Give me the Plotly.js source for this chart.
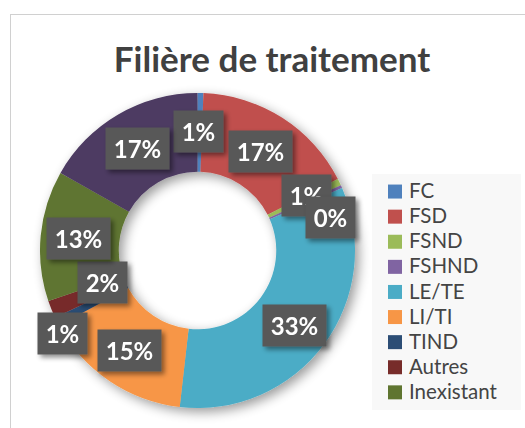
<!DOCTYPE html>
<html>
<head>
<meta charset="utf-8">
<script src="https://cdn.plot.ly/plotly-3.0.1.min.js"></script>
<style>
html,body{margin:0;padding:0;background:#ffffff;overflow:hidden;width:525px;height:428px;}
#frame{position:absolute;left:10px;top:14px;width:700px;height:600px;border:1.5px solid #d0d0d0;box-sizing:border-box;}
#chart{position:absolute;left:0;top:0;width:525px;height:428px;}
.legend .scrollbar{display:none !important;}
.legend .legendtext{font-size:20.5px !important;}
</style>
</head>
<body>
<svg width="0" height="0" style="position:absolute">
  <defs>
    <filter id="ringShadow" x="-20%" y="-20%" width="140%" height="140%">
      <feGaussianBlur in="SourceAlpha" stdDeviation="6"/>
      <feOffset dx="4" dy="4"/>
      <feComponentTransfer><feFuncA type="linear" slope="0.4"/></feComponentTransfer>
      <feMerge><feMergeNode/><feMergeNode in="SourceGraphic"/></feMerge>
    </filter>
    <filter id="boxShadow" x="-30%" y="-30%" width="170%" height="170%">
      <feGaussianBlur in="SourceAlpha" stdDeviation="2.5"/>
      <feOffset dx="3" dy="3"/>
      <feComponentTransfer><feFuncA type="linear" slope="0.45"/></feComponentTransfer>
      <feMerge><feMergeNode/><feMergeNode in="SourceGraphic"/></feMerge>
    </filter>
  </defs>
</svg>
<div id="frame"></div>
<div id="chart"></div>
<script>
// ---- data ----
const categories = ['FC', 'FSD', 'FSND', 'FSHND', 'LE/TE', 'LI/TI', 'TIND', 'Autres', 'Inexistant', 'NR'];
const shares = [0.6, 16.9, 0.7, 0.3, 33.3, 15.3, 0.9, 1.8, 13.4, 16.8];
const sliceColors = ['#4f81bd', '#c0504d', '#9bbb59', '#8064a2', '#4bacc6', '#f79646', '#2c4d75', '#772c2a', '#5f7530', '#4d3b62'];
const chartTitle = 'Filière de traitement';
const legendShown = 9; // the reference legend lists only the first nine entries

// ---- label nudges (px, layout only) ----
const nudgeX = [-1, -1, 3, 25, 2, -2, -30, 15, -1, -1];
const nudgeY = [-1, 1, -4, 15, 5, 2, 30, -12, -1, 0];

// ---- geometry ----
const W = 525, H = 428;
const M = {l: 40, r: 170, t: 93, b: 20};
const HOLE = 0.5;
const pw = W - M.l - M.r, ph = H - M.t - M.b;
const cx = M.l + pw / 2, cy = M.t + ph / 2;
const R = Math.min(pw, ph) / 2;
const rMid = (R + R * HOLE) / 2;
const LEGEND_LEFT = 372, LEGEND_TOP = 174, LEGEND_W = 149;

const total = shares.reduce((a, b) => a + b, 0);
let cum = 0;
const annotations = shares.map((v, i) => {
  const theta = 2 * Math.PI * (cum + v / 2) / total;
  cum += v;
  const px = cx + rMid * Math.sin(theta) + nudgeX[i];
  const py = cy - rMid * Math.cos(theta) + nudgeY[i];
  const txt = Math.round(v / total * 100) + '%';
  return {
    x: (px - M.l) / pw, y: 1 - (py - M.t) / ph,
    xref: 'paper', yref: 'paper', xanchor: 'center', yanchor: 'middle',
    text: txt, showarrow: false,
    font: {family: 'Lato, "Open Sans", sans-serif', size: 24, color: '#ffffff', weight: 700},
    bgcolor: '#595959', borderpad: 5,
    width: 11 + 14 * txt.length, height: 31
  };
});

const trace = {
  type: 'pie',
  labels: categories,
  values: shares,
  marker: {colors: sliceColors, line: {width: 0}},
  sort: false,
  direction: 'clockwise',
  rotation: 0,
  hole: HOLE,
  textinfo: 'none',
  hoverinfo: 'label+percent',
  showlegend: true
};

const layout = {
  width: W, height: H,
  margin: M,
  paper_bgcolor: 'rgba(0,0,0,0)',
  plot_bgcolor: 'rgba(0,0,0,0)',
  title: {
    text: chartTitle,
    font: {family: 'Lato, "Open Sans", sans-serif', size: 35, color: '#404040', weight: 700},
    xref: 'container', yref: 'container',
    x: 272 / W, xanchor: 'center',
    y: 1 - 60 / H, yanchor: 'middle'
  },
  legend: {
    xref: 'container', yref: 'container',
    x: LEGEND_LEFT / W, xanchor: 'left',
    y: 1 - LEGEND_TOP / H, yanchor: 'top',
    bgcolor: '#f8f8f8',
    font: {family: 'Lato, "Open Sans", sans-serif', size: 17, color: '#444444'},
    maxheight: 1000,
    itemclick: false, itemdoubleclick: false
  },
  annotations: annotations,
  showlegend: true
};

function styleLegend() {
  const items = Array.from(document.querySelectorAll('.legend .traces'));
  const ty = el => {
    const m = (el.getAttribute('transform') || '').match(/translate\(\s*([-\d.e]+)[ ,]+([-\d.e]+)/);
    return m ? parseFloat(m[2]) : 0;
  };
  const step = items.length > 1 ? ty(items[1]) - ty(items[0]) : 0;
  const extra = Math.max(0, items.length - legendShown);
  items.slice(legendShown).forEach(el => el.remove());
  const bg = document.querySelector('.legend .bg');
  if (bg) {
    bg.setAttribute('height', parseFloat(bg.getAttribute('height')) - step * extra);
    bg.setAttribute('width', LEGEND_W);
  }
  // widen the legend clip so the larger text is not cut
  const sb = document.querySelector('.legend .scrollbox');
  const cp = sb && sb.getAttribute('clip-path');
  const m = cp && cp.match(/#([^)'"]+)/);
  const clip = m && document.getElementById(m[1]);
  if (clip) clip.querySelectorAll('rect').forEach(r => r.setAttribute('width', LEGEND_W));
  document.querySelectorAll('clipPath[id^="legend"] rect').forEach(r => r.setAttribute('width', LEGEND_W));
  // Excel-like legend keys: slightly larger squares, closer to the text
  document.querySelectorAll('.legend .legendpoints path').forEach(p => p.setAttribute('d', 'M10,7H-4V-7H10Z'));
  document.querySelectorAll('.legend .legendtext').forEach(t => {
    const x = parseFloat(t.getAttribute('x'));
    if (!isNaN(x)) t.setAttribute('x', x - 3);
  });
}

Plotly.newPlot('chart', [trace], layout, {displayModeBar: false, staticPlot: true}).then(() => {
  styleLegend();
  document.querySelectorAll('.pielayer').forEach(g => g.setAttribute('filter', 'url(#ringShadow)'));
  document.querySelectorAll('.annotation').forEach(g => g.setAttribute('filter', 'url(#boxShadow)'));
});
</script>
</body>
</html>
